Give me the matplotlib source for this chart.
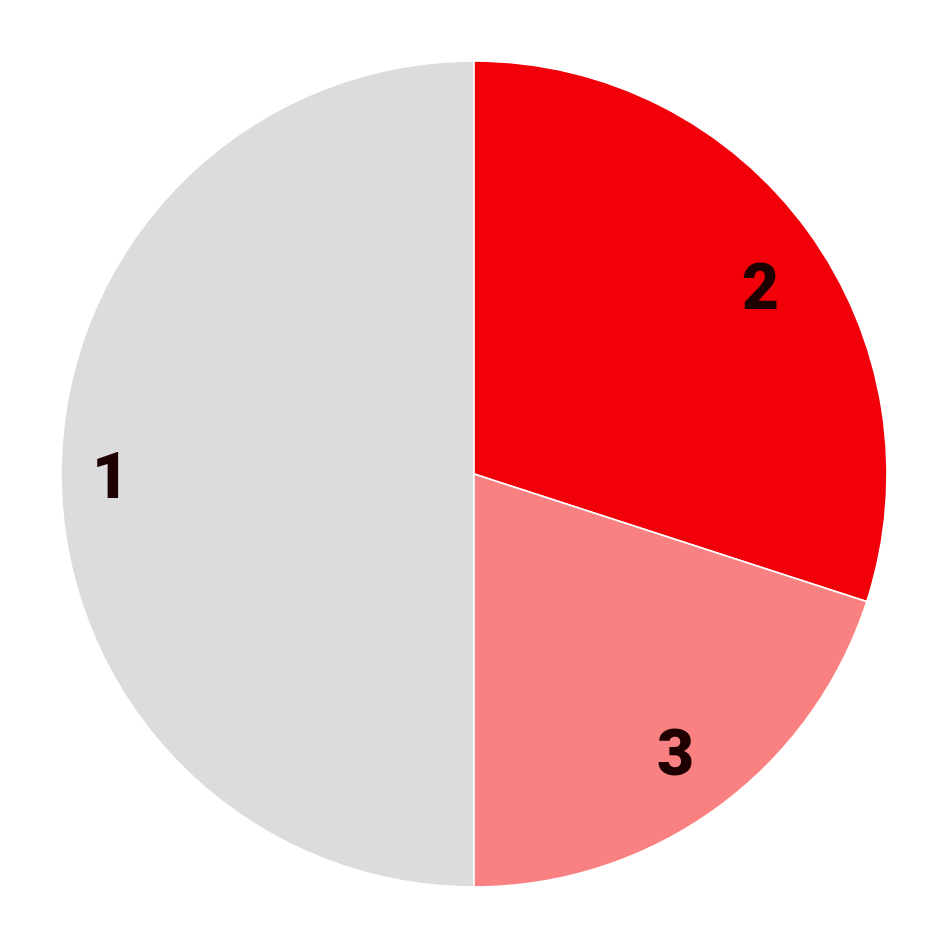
import numpy as np
import matplotlib
matplotlib.use("Agg")
import matplotlib.pyplot as plt

labels = ["1", "2", "3"]
values = [0.5, 0.3, 0.2]
colors = ["#dcdcdc", "#f20009", "#f98181"]
label_dist = [0.88, 0.83, 0.83]
label_turn = [0, -2.5, 0]  # small angle nudge, degrees

fig = plt.figure(figsize=(9.48, 9.48), dpi=100)
ax = fig.add_axes([0, 0, 1, 1])
wedges, _ = ax.pie(values, colors=colors, startangle=-90, counterclock=False,
                   wedgeprops=dict(edgecolor="white", linewidth=1.2))

for w, lab, d, t in zip(wedges, labels, label_dist, label_turn):
    mid = np.deg2rad((w.theta1 + w.theta2) / 2 + t)
    ax.text(d * np.cos(mid), d * np.sin(mid), lab, ha="center",
            va="center_baseline", fontsize=46, fontweight="heavy",
            color="#1f0000", family=["Roboto", "Liberation Sans"])

lim = 474 / 413
ax.set_xlim(-lim, lim)
ax.set_ylim(-lim, lim)
ax.set_aspect("equal")
ax.axis("off")
fig.savefig("out.png", dpi=100)
